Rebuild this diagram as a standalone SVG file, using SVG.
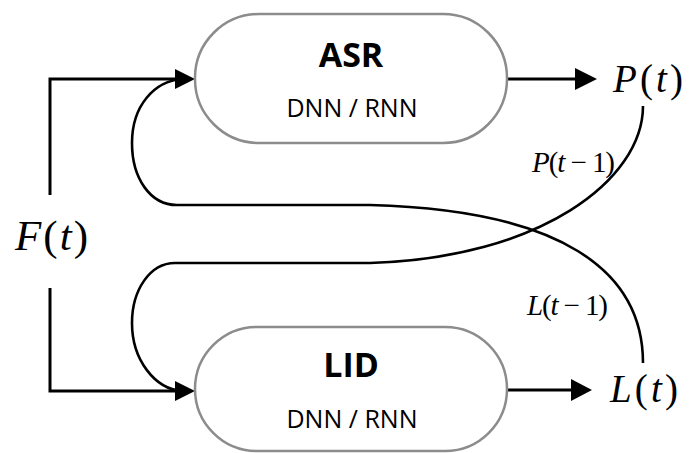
<svg xmlns="http://www.w3.org/2000/svg" width="689" height="453" viewBox="0 0 689 453">
<style>
.box{fill:#fff;stroke:#8c8c8c;stroke-width:2.5}
.title{font-family:"Open Sans","Liberation Sans",sans-serif;font-weight:bold;font-size:34px;fill:#000;text-anchor:middle}
.sub{font-family:"Open Sans","Liberation Sans",sans-serif;font-size:25px;fill:#000;text-anchor:middle}
.math{font-family:"Liberation Serif","Times New Roman",serif;fill:#000}
.it{font-style:italic}
.line{fill:none;stroke:#000;stroke-width:3}
.curve{fill:none;stroke:#000;stroke-width:2.6}
.head{fill:#000}
</style>
<g id="connectors">
  <path class="line" d="M50,195 V79 H178"/>
  <path class="line" d="M50,288 V391 H178"/>
  <path class="line" d="M507,79 H580"/>
  <path class="line" d="M507,390 H575"/>
  <path class="curve" d="M643,363 C643,270 560,210 370,205 L177,205 C150,205 132,178 132,143 C132,105 155,81 182,79"/>
  <path class="curve" d="M643,106 C643,180 540,258 370,263 L175,263 C150,263 132,290 132,323 C132,360 155,389 182,391"/>
  <polygon class="head" points="195,79 175,69 175,89"/>
  <polygon class="head" points="195,391 175,381 175,401"/>
  <polygon class="head" points="597,79 575,68 575,90"/>
  <polygon class="head" points="592,390 571,379 571,401"/>
  <text class="math" x="532" y="172" font-size="29" textLength="83" lengthAdjust="spacing"><tspan class="it">P</tspan>(<tspan class="it">t</tspan> − 1)</text>
  <text class="math" x="527" y="315" font-size="29" textLength="81" lengthAdjust="spacing"><tspan class="it">L</tspan>(<tspan class="it">t</tspan> − 1)</text>
</g>
<g id="asr">
  <rect class="box" x="195" y="14" width="312" height="129" rx="64" ry="64"/>
  <text class="title" x="351" y="67">ASR</text>
  <text class="sub" x="352" y="117">DNN / RNN</text>
</g>
<g id="lid">
  <rect class="box" x="195" y="327" width="312" height="124" rx="62" ry="62"/>
  <text class="title" x="351" y="377">LID</text>
  <text class="sub" x="352" y="428">DNN / RNN</text>
</g>
<g id="F">
  <text class="math" x="15" y="250" font-size="43" textLength="73" lengthAdjust="spacing"><tspan class="it">F</tspan>(<tspan class="it">t</tspan>)</text>
</g>
<g id="P">
  <text class="math" x="613" y="92" font-size="39" textLength="70" lengthAdjust="spacing"><tspan class="it">P</tspan>(<tspan class="it">t</tspan>)</text>
</g>
<g id="L">
  <text class="math" x="610" y="402" font-size="39" textLength="68" lengthAdjust="spacing"><tspan class="it">L</tspan>(<tspan class="it">t</tspan>)</text>
</g>
</svg>
